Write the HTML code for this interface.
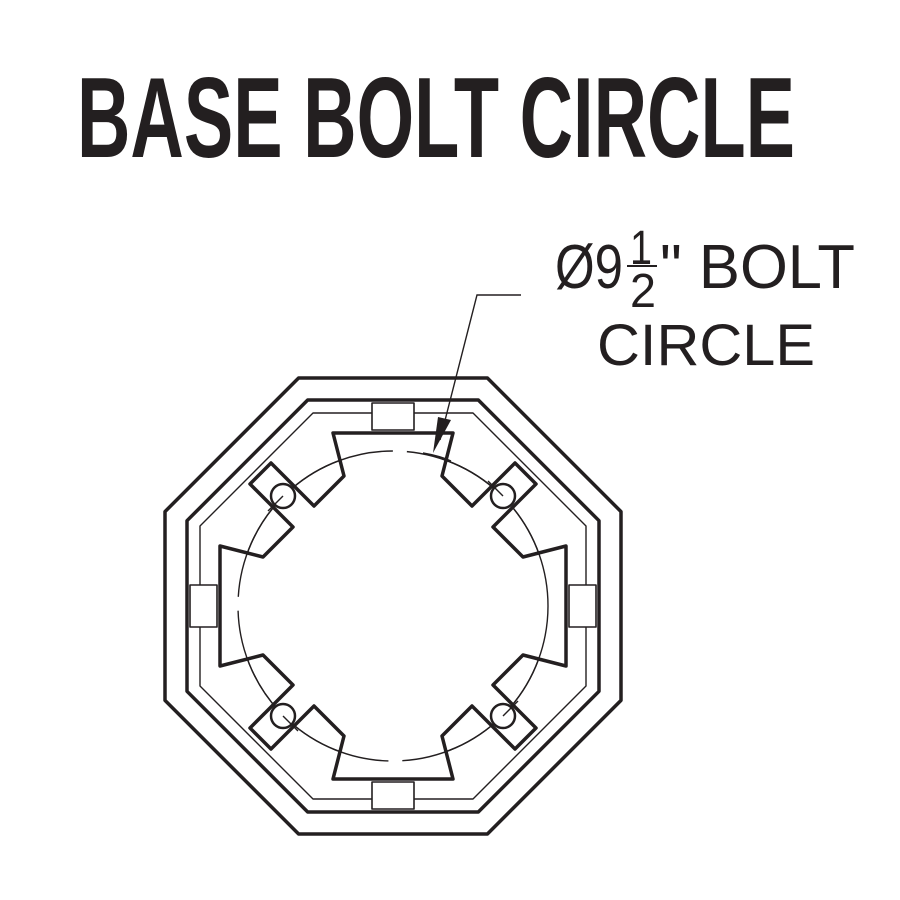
<!DOCTYPE html>
<html><head><meta charset="utf-8"><style>html,body{margin:0;padding:0;background:#fff}svg{display:block}</style></head>
<body>
<svg width="900" height="900" viewBox="0 0 900 900" xmlns="http://www.w3.org/2000/svg">
<rect width="900" height="900" fill="#fff"/>
<text x="77" y="157" font-family="Liberation Sans, sans-serif" font-weight="bold" font-size="114" fill="#231f20" textLength="718" lengthAdjust="spacingAndGlyphs">BASE BOLT CIRCLE</text>
<g font-family="Liberation Sans, sans-serif" fill="#231f20">
<text x="555" y="288" font-size="62" textLength="68" lengthAdjust="spacingAndGlyphs">Ø9</text>
<text x="630" y="264" font-size="48" textLength="22" lengthAdjust="spacingAndGlyphs">1</text>
<rect x="627" y="265" width="30" height="2"/>
<text x="630" y="307" font-size="48" textLength="26" lengthAdjust="spacingAndGlyphs">2</text>
<text x="660" y="288" font-size="62" textLength="195" lengthAdjust="spacingAndGlyphs">" BOLT</text>
<text x="597" y="365" font-size="58" textLength="218" lengthAdjust="spacingAndGlyphs">CIRCLE</text>
</g>
<g transform="translate(393,606)" fill="none" stroke="#231f20" stroke-linejoin="round">
<polygon stroke-width="3.5" points="-94.4,-228 94.4,-228 228,-94.4 228,94.4 94.4,228 -94.4,228 -228,94.4 -228,-94.4"/>
<polygon stroke-width="3.5" points="-85.3,-206 85.3,-206 206,-85.3 206,85.3 85.3,206 -85.3,206 -206,85.3 -206,-85.3"/>
<polygon stroke-width="1.4" points="-80,-193 80,-193 193,-80 193,80 80,193 -80,193 -193,80 -193,-80"/>
<g fill="#fff" stroke-width="1.6">
<rect x="-21" y="-203" width="42" height="27"/>
<rect x="-21" y="176" width="42" height="27"/>
<rect x="-203" y="-21" width="27" height="42"/>
<rect x="176" y="-21" width="27" height="42"/>
</g>
<circle r="155" stroke-width="1.4" stroke-dasharray="110 14"/>
<path fill="#fff" stroke-width="3.5" d="M-60,-173 L60,-173 L49,-130 L79,-100 L122,-143 L143,-122 L100,-79 L130,-49 L173,-60 L173,60 L130,49 L100,79 L143,122 L122,143 L79,100 L49,130 L60,173 L-60,173 L-49,130 L-79,100 L-122,143 L-143,122 L-100,79 L-130,49 L-173,60 L-173,-60 L-130,-49 L-100,-79 L-143,-122 L-122,-143 L-79,-100 L-49,-130 Z"/>
<circle r="155" stroke-width="1.4" stroke-dasharray="110 14"/>
<g stroke-width="2.5" fill="#fff">
<circle cx="-110" cy="-110" r="12"/><circle cx="110" cy="-110" r="12"/>
<circle cx="-110" cy="110" r="12"/><circle cx="110" cy="110" r="12"/>
</g>
<g stroke-width="1.4">
<line x1="-110" y1="-110" x2="-125" y2="-95"/><line x1="110" y1="-110" x2="95" y2="-125"/>
<line x1="-110" y1="110" x2="-95" y2="125"/><line x1="110" y1="110" x2="125" y2="95"/>
</g>
</g>
<polyline points="521,295 477,295 440,440" fill="none" stroke="#231f20" stroke-width="1.4"/>
<polygon points="433,453 438,417 451,420" fill="#231f20"/>
<path d="M423,453 Q440,456 451,461" fill="none" stroke="#231f20" stroke-width="1.4"/>
</svg>
</body></html>
